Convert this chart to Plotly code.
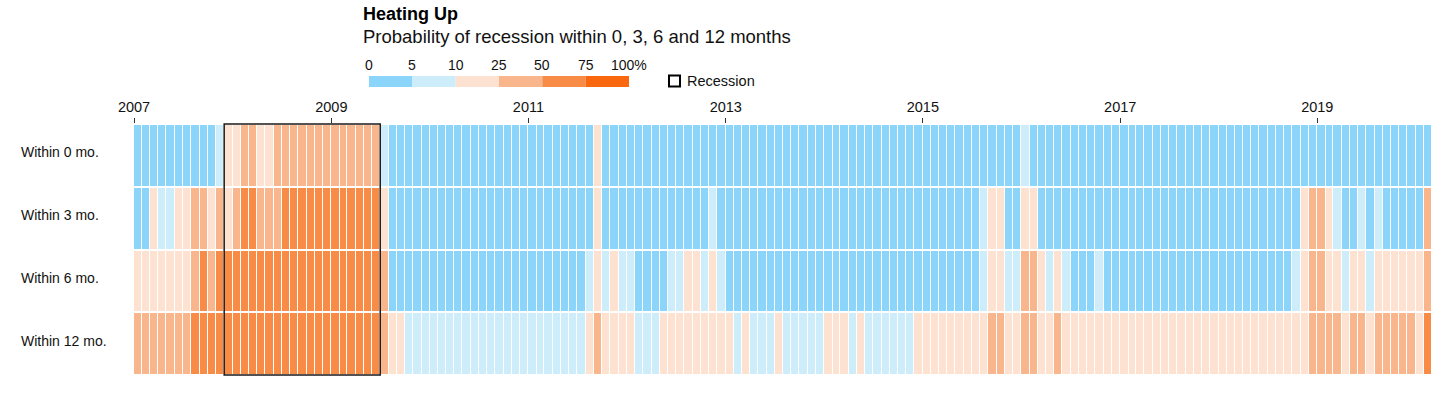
import pandas as pd
import plotly.graph_objects as go

# ---------------- data ----------------
row_labels = ["Within 0 mo.", "Within 3 mo.", "Within 6 mo.", "Within 12 mo."]

# monthly, Jan 2007 .. Feb 2020 (one line per year), probability in %
within_0 = [
    2, 2, 2, 2, 2, 2, 2, 2, 2, 2, 7, 17,
    17, 37, 37, 17, 17, 37, 37, 37, 37, 37, 37, 37,
    37, 37, 37, 37, 37, 37, 7, 2, 2, 2, 2, 2,
    2, 2, 2, 2, 2, 2, 2, 2, 2, 2, 2, 2,
    2, 2, 2, 2, 2, 2, 2, 2, 17, 2, 2, 2,
    2, 2, 2, 2, 2, 2, 2, 2, 2, 2, 2, 2,
    2, 2, 2, 2, 2, 2, 2, 2, 2, 2, 2, 2,
    2, 2, 2, 2, 2, 2, 2, 2, 2, 2, 2, 2,
    2, 2, 2, 2, 2, 2, 2, 2, 2, 2, 2, 2,
    7, 2, 2, 2, 2, 2, 2, 2, 2, 2, 2, 2,
    2, 2, 2, 2, 2, 2, 2, 2, 2, 2, 2, 2,
    2, 2, 2, 2, 2, 2, 2, 2, 2, 2, 2, 2,
    2, 2, 2, 2, 2, 2, 2, 2, 2, 2, 2, 2,
    2, 2,
]
within_3 = [
    2, 2, 17, 7, 7, 17, 17, 37, 37, 17, 37, 17,
    37, 62, 62, 37, 37, 37, 62, 62, 62, 62, 62, 62,
    62, 62, 62, 62, 62, 62, 17, 2, 2, 2, 2, 2,
    2, 2, 2, 2, 2, 2, 2, 2, 2, 2, 2, 2,
    2, 2, 2, 2, 2, 2, 2, 2, 17, 2, 2, 2,
    2, 2, 2, 2, 2, 2, 2, 2, 2, 2, 7, 2,
    2, 2, 2, 2, 2, 2, 2, 2, 2, 2, 2, 2,
    2, 2, 2, 2, 2, 2, 2, 2, 2, 2, 2, 2,
    2, 2, 2, 2, 2, 2, 2, 7, 17, 17, 2, 2,
    17, 17, 2, 2, 2, 2, 2, 2, 2, 2, 2, 2,
    2, 2, 2, 2, 2, 2, 2, 2, 2, 2, 2, 2,
    2, 2, 2, 2, 2, 2, 2, 2, 2, 2, 17, 37,
    37, 17, 7, 2, 2, 7, 2, 7, 2, 2, 2, 2,
    2, 37,
]
within_6 = [
    17, 17, 17, 17, 17, 17, 17, 37, 62, 37, 62, 62,
    62, 62, 62, 62, 62, 62, 62, 62, 62, 62, 62, 62,
    62, 62, 62, 62, 62, 62, 37, 2, 2, 2, 2, 2,
    2, 2, 2, 2, 2, 2, 2, 2, 2, 2, 2, 2,
    2, 2, 2, 2, 2, 2, 2, 7, 17, 7, 17, 7,
    7, 2, 2, 2, 2, 7, 7, 17, 17, 7, 17, 7,
    2, 2, 2, 2, 2, 2, 2, 2, 2, 2, 2, 2,
    2, 2, 2, 2, 2, 2, 2, 2, 2, 2, 2, 2,
    2, 2, 2, 2, 2, 2, 2, 7, 17, 17, 7, 7,
    37, 37, 17, 7, 17, 7, 2, 2, 2, 7, 2, 2,
    2, 2, 2, 2, 2, 2, 2, 2, 2, 2, 2, 2,
    2, 2, 2, 2, 2, 2, 2, 2, 2, 7, 17, 37,
    37, 17, 17, 7, 17, 17, 7, 17, 17, 17, 17, 17,
    17, 37,
]
within_12 = [
    37, 37, 37, 37, 37, 37, 37, 62, 62, 62, 62, 62,
    62, 62, 62, 62, 62, 62, 62, 62, 62, 62, 62, 62,
    62, 62, 62, 62, 62, 62, 37, 17, 17, 7, 7, 7,
    7, 7, 7, 7, 7, 7, 7, 7, 7, 7, 7, 7,
    7, 7, 7, 7, 7, 7, 7, 17, 37, 17, 17, 17,
    17, 7, 7, 7, 17, 17, 17, 17, 17, 17, 17, 17,
    17, 7, 17, 7, 7, 7, 17, 7, 7, 7, 7, 7,
    17, 17, 17, 7, 17, 7, 7, 7, 7, 7, 7, 17,
    17, 17, 17, 17, 17, 17, 17, 17, 37, 37, 17, 17,
    37, 37, 17, 17, 37, 17, 17, 17, 17, 17, 17, 17,
    17, 17, 17, 17, 17, 17, 17, 17, 17, 17, 17, 17,
    17, 17, 17, 17, 17, 17, 17, 17, 17, 17, 17, 37,
    37, 37, 37, 17, 37, 37, 17, 37, 37, 37, 37, 37,
    17, 62,
]

# month edges (n + 1 edges for n monthly cells)
month_edges = pd.date_range("2007-01-01", "2020-03-01", freq="MS").strftime("%Y-%m-%d").tolist()
tick_years = ["2007", "2009", "2011", "2013", "2015", "2017", "2019"]
recession_start = "2007-12-01"
recession_end = "2009-07-01"

legend_breaks = ["0", "5", "10", "25", "50", "75", "100%"]
bin_colors = ["#8ad5f9", "#cdedfb", "#fde2d2", "#f9b58c", "#f88b45", "#f9680f"]
bin_edges = [0, 5, 10, 25, 50, 75, 100]

# step colorscale
colorscale = []
for k, c in enumerate(bin_colors):
    colorscale.append([bin_edges[k] / 100, c])
    colorscale.append([bin_edges[k + 1] / 100, c])

FONT = "Liberation Sans, Arial, sans-serif"

fig = go.Figure()
fig.add_trace(go.Heatmap(
    z=[within_0, within_3, within_6, within_12],
    x=month_edges,
    y=row_labels,
    zmin=0, zmax=100,
    colorscale=colorscale,
    showscale=False,
    xgap=1, ygap=2,
    hoverinfo="skip",
))

# recession box
fig.add_shape(type="rect", xref="x", yref="paper",
              x0=recession_start, x1=recession_end, y0=0, y1=1,
              line=dict(color="#1a1a1a", width=1.5), fillcolor="rgba(0,0,0,0)")

# page geometry (body margin removed in the page, so figure fills the window)
PAGE_L, PAGE_R, PAGE_T, PAGE_B = 134, 1432, 124, 375
W, H = 1448, 393
L, T = PAGE_L, PAGE_T
R = W - PAGE_R
B = H - PAGE_B
pw, ph = PAGE_R - PAGE_L, PAGE_B - PAGE_T
def px(xp):
    return (xp - PAGE_L) / pw
def py(yp):
    return (PAGE_B - yp) / ph

annotations = []
# title & subtitle
annotations.append(dict(text="<b>Heating Up</b>", x=px(361), y=py(14), xref="paper", yref="paper",
                        xanchor="left", yanchor="middle", showarrow=False,
                        font=dict(size=18, color="#000", family=FONT)))
annotations.append(dict(text="Probability of recession within 0, 3, 6 and 12 months", x=px(361), y=py(36),
                        xref="paper", yref="paper", xanchor="left", yanchor="middle", showarrow=False,
                        font=dict(size=18.5, color="#111", family=FONT)))

# color legend
seg_x0, seg_x1 = 369, 629
seg_w = (seg_x1 - seg_x0) / len(bin_colors)
shapes = []
for k, c in enumerate(bin_colors):
    shapes.append(dict(type="rect", xref="paper", yref="paper",
                       x0=px(seg_x0 + k * seg_w), x1=px(seg_x0 + (k + 1) * seg_w),
                       y0=py(87), y1=py(76), fillcolor=c, line=dict(width=0)))
for k, lab in enumerate(legend_breaks):
    annotations.append(dict(text=lab, x=px(seg_x0 + k * seg_w), y=py(65), xref="paper", yref="paper",
                            xanchor="center", yanchor="middle", showarrow=False,
                            font=dict(size=14, color="#111", family=FONT)))
# recession legend
shapes.append(dict(type="rect", xref="paper", yref="paper", x0=px(669), x1=px(680),
                   y0=py(86.5), y1=py(75.5), line=dict(color="#000", width=2), fillcolor="white"))
annotations.append(dict(text="Recession", x=px(685), y=py(81.5), xref="paper", yref="paper",
                        xanchor="left", yanchor="middle", showarrow=False,
                        font=dict(size=14.5, color="#111", family=FONT)))

# row labels (left aligned)
for lab in row_labels:
    annotations.append(dict(text=lab, x=px(19), y=lab, xref="paper", yref="y",
                            xanchor="left", yanchor="middle", showarrow=False, yshift=3,
                            font=dict(size=14, color="#111", family=FONT)))

for s in shapes:
    fig.add_shape(**s)

fig.update_layout(
    width=W, height=H,
    margin=dict(l=L, r=R, t=T, b=B),
    paper_bgcolor="white", plot_bgcolor="white",
    annotations=annotations,
    font=dict(family=FONT, color="#111"),
    xaxis=dict(type="date", side="top", range=[month_edges[0], month_edges[-1]],
               tickvals=[y + "-01-01" for y in tick_years], ticktext=tick_years,
               ticks="outside", ticklen=5, tickcolor="#333", tickwidth=1,
               tickfont=dict(size=14.5, color="#111", family=FONT),
               showgrid=False, zeroline=False, showline=False),
    yaxis=dict(autorange="reversed", showticklabels=False, showgrid=False,
               zeroline=False, ticks=""),
)

fig.write_html("out.html",
               config={"displayModeBar": False},
               post_script="document.body.style.margin='0px';document.body.style.overflow='hidden';")
